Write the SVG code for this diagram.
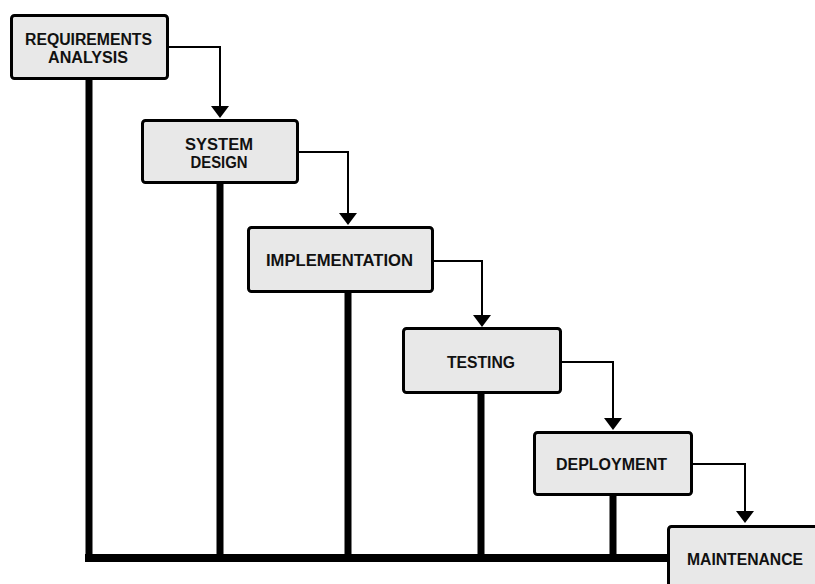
<svg xmlns="http://www.w3.org/2000/svg" width="815" height="584" viewBox="0 0 815 584">
<defs>
<style>
.box{fill:#e8e8e8;stroke:#000;stroke-width:3}
.lbl{font-family:"Liberation Sans",Arial,sans-serif;font-weight:bold;font-size:16px;fill:#111;text-anchor:middle}
.flow{fill:none;stroke:#000;stroke-width:2}
.bar{fill:#000}
</style>
</defs>
<rect width="815" height="584" fill="#fff"/>
<g id="connectors">
<rect class="bar" x="85" y="554" width="585" height="8"/>
<rect class="bar" x="85.5" y="78" width="7" height="480"/>
<rect class="bar" x="216.5" y="182" width="7" height="376"/>
<rect class="bar" x="344.5" y="291" width="7" height="267"/>
<rect class="bar" x="477.5" y="392" width="7" height="166"/>
<rect class="bar" x="609.5" y="494" width="7" height="64"/>
<path class="flow" d="M168,47 H220 V106"/>
<path d="M211,106 H229 L220,118 Z"/>
<path class="flow" d="M298,152 H348 V213"/>
<path d="M339,213 H357 L348,225 Z"/>
<path class="flow" d="M433,261 H482 V315"/>
<path d="M473,315 H491 L482,327 Z"/>
<path class="flow" d="M561,362 H613 V418"/>
<path d="M604,418 H622 L613,430 Z"/>
<path class="flow" d="M692,464 H745 V511"/>
<path d="M736,511 H754 L745,523 Z"/>
</g>
<g id="requirements">
<rect class="box" x="11.5" y="15.5" width="156" height="63" rx="3"/>
<text class="lbl" x="88.5" y="44.5" textLength="127" lengthAdjust="spacingAndGlyphs">REQUIREMENTS</text>
<text class="lbl" x="88" y="63" textLength="80" lengthAdjust="spacingAndGlyphs">ANALYSIS</text>
</g>
<g id="design">
<rect class="box" x="142.5" y="120.5" width="155" height="62" rx="3"/>
<text class="lbl" x="219" y="149.5" textLength="68" lengthAdjust="spacingAndGlyphs">SYSTEM</text>
<text class="lbl" x="219" y="167.5" textLength="57" lengthAdjust="spacingAndGlyphs">DESIGN</text>
</g>
<g id="implementation">
<rect class="box" x="248.5" y="227.5" width="184" height="64" rx="3"/>
<text class="lbl" x="339.5" y="266" textLength="147" lengthAdjust="spacingAndGlyphs">IMPLEMENTATION</text>
</g>
<g id="testing">
<rect class="box" x="403.5" y="328.5" width="157" height="64" rx="3"/>
<text class="lbl" x="481" y="368" textLength="68" lengthAdjust="spacingAndGlyphs">TESTING</text>
</g>
<g id="deployment">
<rect class="box" x="534.5" y="432.5" width="157" height="62" rx="3"/>
<text class="lbl" x="611.5" y="470" textLength="111" lengthAdjust="spacingAndGlyphs">DEPLOYMENT</text>
</g>
<g id="maintenance">
<rect class="box" x="668.5" y="526.5" width="170" height="80" rx="3"/>
<text class="lbl" x="745" y="565" textLength="116" lengthAdjust="spacingAndGlyphs">MAINTENANCE</text>
</g>
</svg>
